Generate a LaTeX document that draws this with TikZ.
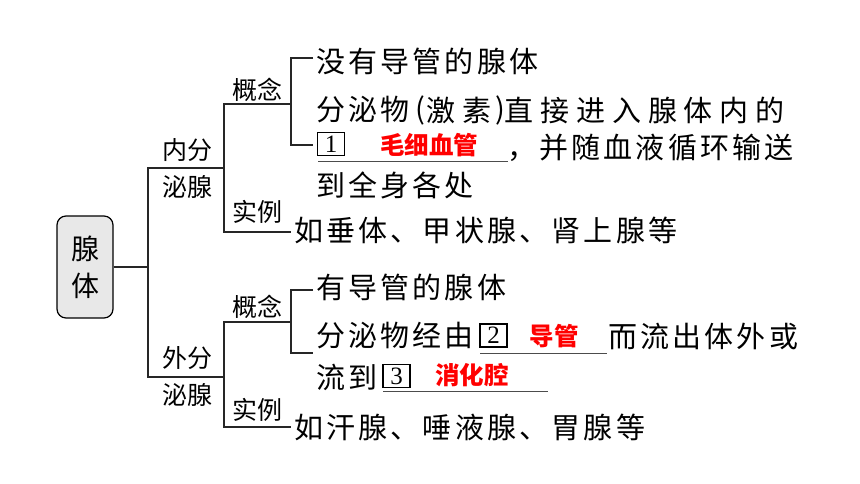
\documentclass[tikz,border=0pt]{standalone}
\usepackage{fontspec}
\newfontfamily\cjk[LetterSpace=11]{Noto Sans CJK SC}
\newfontfamily\cjkwide[LetterSpace=24]{Noto Sans CJK SC}
\newfontfamily\cjkplain{Noto Sans CJK SC}
\newfontfamily\numfont{Liberation Serif}
\begin{document}
\begin{tikzpicture}[x=1pt,y=-1pt,
  txt/.style={font=\cjk\fontsize{29}{31}\selectfont, anchor=west, inner sep=0pt},
  txtw/.style={font=\cjkwide\fontsize{29}{31}\selectfont, anchor=west, inner sep=0pt},
  paren/.style={font=\cjkplain\fontsize{29}{31}\selectfont, anchor=west, inner sep=0pt},
  lab/.style={font=\cjkplain\fontsize{25}{27}\selectfont, inner sep=0pt},
  ans/.style={font=\cjkplain\bfseries\fontsize{24.5}{26}\selectfont, text=red, inner sep=0pt},
  numbox/.style={draw, line width=1.2pt, minimum width=27pt, minimum height=23pt, inner sep=0pt, font=\numfont\fontsize{25}{25}\selectfont},
  tree/.style={line width=1.5pt, black!85},
  uline/.style={line width=1pt, black!70}]
\useasboundingbox (0,0) rectangle (860,484);
% root
\node[draw, line width=1.2pt, rounded corners=9pt, fill=gray!18, minimum width=56pt, minimum height=102pt, align=center, inner sep=0pt, font=\cjkplain\fontsize{28}{37}\selectfont] (root) at (85,267) {腺\\体};
% labels
\node[lab] (lnei1) at (187,150) {内分};
\node[lab] (lnei2) at (187,187) {泌腺};
\node[lab] (lwai1) at (187,358) {外分};
\node[lab] (lwai2) at (187,395) {泌腺};
\node[lab] (lgn1) at (257,90) {概念};
\node[lab] (lsl1) at (257,212) {实例};
\node[lab] (lgn2) at (257,307) {概念};
\node[lab] (lsl2) at (257,410) {实例};
% coordinates
\coordinate (a1) at (148,168);
\coordinate (a2) at (148,377);
\coordinate (b1) at (224,168);
\coordinate (b2) at (224,377);
\coordinate (k1) at (291,104);
\coordinate (k2) at (291,232);
\coordinate (k3) at (291,322);
\coordinate (k4) at (291,427);
\coordinate (t1) at (313,58);
\coordinate (t2) at (313,145);
\coordinate (t3) at (313,290);
\coordinate (t4) at (313,353);
% tree lines
\draw[tree] (root.east) -| (a1) -- (b1);
\draw[tree] (root.east) -| (a2) -- (b2);
\draw[tree] (k1) -| (b1) |- (k2);
\draw[tree] (k3) -| (b2) |- (k4);
\draw[tree] (t1) -| (k1) |- (t2);
\draw[tree] (t3) -| (k3) |- (t4);
% top texts
\node[txt] (ta1) at (316,61) {没有导管的腺体};
\node[txt] (ta2a) at (316,110) {分泌物};
\node[paren] (ta2p1) at (415,110) {(};
\node[txtw] (ta2b) at (426,110) {激素};
\node[paren] (ta2p2) at (495,110) {)};
\node[txtw] (ta2c) at (504,110) {直接进入腺体内的};
\node[numbox] (n1) at (331,144) {1};
\node[ans] (r1) at (429,145) {毛细血管};
\node[txt] (ta3) at (507,148) {，并随血液循环输送};
\coordinate (u1s) at (318,162);
\coordinate (u1e) at (508,162);
\draw[uline] (u1s) -- (u1e);
\node[txt] (ta4) at (316,185) {到全身各处};
\node[txt] (ta5) at (294,230) {如垂体、甲状腺、肾上腺等};
% bottom texts
\node[txt] (tb1) at (316,287) {有导管的腺体};
\node[txt] (tb2) at (316,336) {分泌物经由};
\node[numbox] (n2) at (493.5,335.5) {2};
\node[ans] (r2) at (554,336) {导管};
\node[txt] (tb3) at (608,336) {而流出体外或};
\coordinate (u2s) at (480,353);
\coordinate (u2e) at (607,353);
\draw[uline] (u2s) -- (u2e);
\node[txt] (tb4) at (316,377) {流到};
\node[numbox] (n3) at (396.5,376) {3};
\node[ans] (r3) at (472,375) {消化腔};
\coordinate (u3s) at (383,391);
\coordinate (u3e) at (548,391);
\draw[uline] (u3s) -- (u3e);
\node[txt] (tb5) at (294,427) {如汗腺、唾液腺、胃腺等};
\end{tikzpicture}
\end{document}
